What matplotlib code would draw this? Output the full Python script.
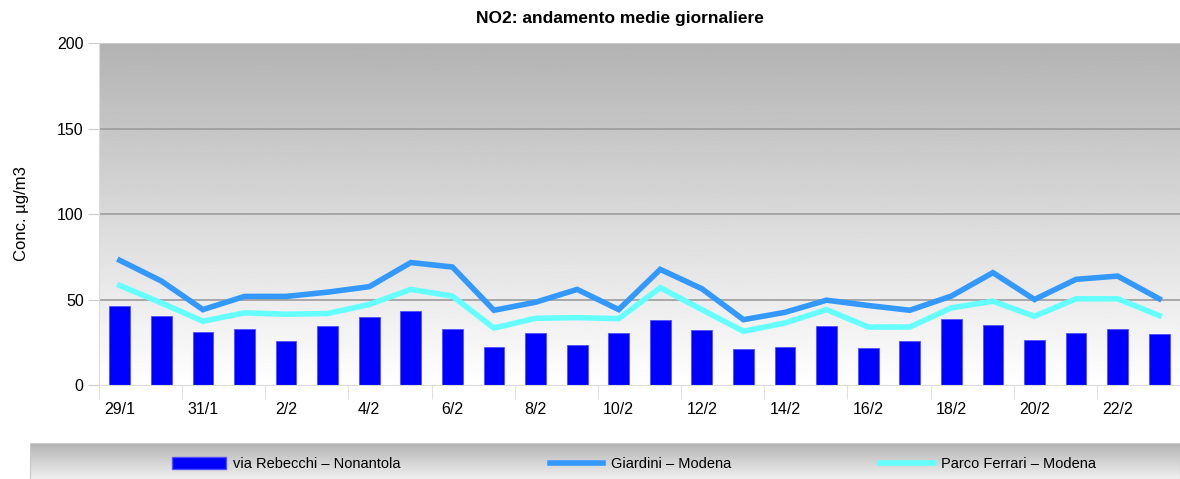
import numpy as np
import matplotlib
matplotlib.use("Agg")
import matplotlib.pyplot as plt
from matplotlib.lines import Line2D
from matplotlib.patches import Patch

plt.rcParams['font.family'] = ['Liberation Sans', 'DejaVu Sans']

days = ["29/1", "30/1", "31/1", "1/2", "2/2", "3/2", "4/2", "5/2", "6/2", "7/2",
        "8/2", "9/2", "10/2", "11/2", "12/2", "13/2", "14/2", "15/2", "16/2",
        "17/2", "18/2", "19/2", "20/2", "21/2", "22/2", "23/2"]
rebecchi = [46.1, 40.6, 31.2, 32.5, 25.5, 34.5, 39.8, 43.5, 32.7, 22.0, 30.4, 23.3,
            30.4, 38.0, 32.0, 21.2, 22.2, 34.7, 21.4, 25.9, 38.6, 35.3, 26.1, 30.4, 32.5, 29.8]
giardini = [72.9, 60.8, 44.1, 51.8, 51.8, 54.3, 57.5, 71.6, 69.0, 43.7, 48.4, 55.9,
            44.1, 67.6, 56.3, 38.2, 42.5, 49.6, 46.5, 43.7, 52.0, 65.7, 50.0, 61.8, 63.7, 50.4]
ferrari = [58.2, 48.0, 37.3, 42.2, 41.4, 41.8, 47.1, 55.9, 52.0, 33.3, 39.0, 39.4,
           38.8, 56.9, 44.1, 31.4, 36.3, 44.1, 33.9, 33.9, 45.1, 49.0, 40.2, 50.4, 50.4, 40.6]
series_names = ["via Rebecchi – Nonantola", "Giardini – Modena", "Parco Ferrari – Modena"]

W, H = 1180, 479
fig = plt.figure(figsize=(W / 100, H / 100), dpi=100)
fig.patch.set_facecolor('white')

ax = fig.add_axes([99 / W, 1 - 385 / H, 1 - 99 / W, (385 - 43) / H])
x = np.arange(len(days))

# gradient background
grad = np.linspace(0, 1, 256).reshape(-1, 1)
top, bot = 0.70, 1.0
ax.imshow(top + (bot - top) * grad, cmap='gray', vmin=0, vmax=1, aspect='auto',
          extent=[0, 1, 0, 1], transform=ax.transAxes, zorder=0)

for v in [50, 100, 150]:
    ax.axhline(v, color='#9c9c9c', lw=1.2, zorder=1)
ax.axhline(200, color='#cfcfcf', lw=1.2, zorder=1)

ax.bar(x, rebecchi, width=0.5, color='#0000ff', edgecolor='#5050ff', linewidth=0.6, zorder=2)
ax.plot(x, giardini, color='#3399ff', lw=4, zorder=3, solid_joinstyle='miter')
ax.plot(x, ferrari, color='#66ffff', lw=4, zorder=3, solid_joinstyle='miter')

ax.set_xlim(-0.5, len(days) - 0.5)
ax.set_ylim(0, 200)
ax.set_yticks([0, 50, 100, 150, 200])
ax.tick_params(axis='y', length=8, color='#cfcfcf', labelsize=11.5, pad=3)
ax.set_xticks(x[::2])
ax.set_xticklabels(days[::2])
ax.set_xticks(np.arange(-0.5, len(days), 2), minor=True)
ax.tick_params(axis='x', which='major', length=0, labelsize=11.5, pad=12)
ax.tick_params(axis='x', which='minor', length=10, color='#dcdcdc')
for s in ['top', 'right']:
    ax.spines[s].set_visible(False)
ax.spines['left'].set_color('#dcdcdc')
ax.spines['bottom'].set_color('#dcdcdc')
ax.set_ylabel("Conc. µg/m3", fontsize=12, labelpad=20)

fig.text(620 / W, 1 - 18 / H, "NO2: andamento medie giornaliere", ha='center', va='center',
         fontsize=12.5, fontweight='bold')

# legend panel
lax = fig.add_axes([30 / W, 0, 1 - 30 / W, 36 / H])
lgrad = np.linspace(0, 1, 64).reshape(-1, 1)
lax.imshow(0.70 + 0.24 * lgrad, cmap='gray', vmin=0, vmax=1, aspect='auto',
           extent=[0, 1, 0, 1], transform=lax.transAxes)
lax.set_xticks([])
lax.set_yticks([])
for s in lax.spines.values():
    s.set_color('#c8c8c8')

handles = [Patch(facecolor='#0000ff', edgecolor='#5050ff'),
           Line2D([], [], color='#3399ff', lw=4),
           Line2D([], [], color='#66ffff', lw=4)]
fig.legend(handles, series_names, loc='center left', bbox_to_anchor=(172 / W, 1 - 464 / H),
           ncol=3, frameon=False, fontsize=10.5, handlelength=3.7, handleheight=0.9,
           handletextpad=0.5, columnspacing=10.2, borderpad=0, borderaxespad=0)

fig.savefig("out.png", dpi=100)
